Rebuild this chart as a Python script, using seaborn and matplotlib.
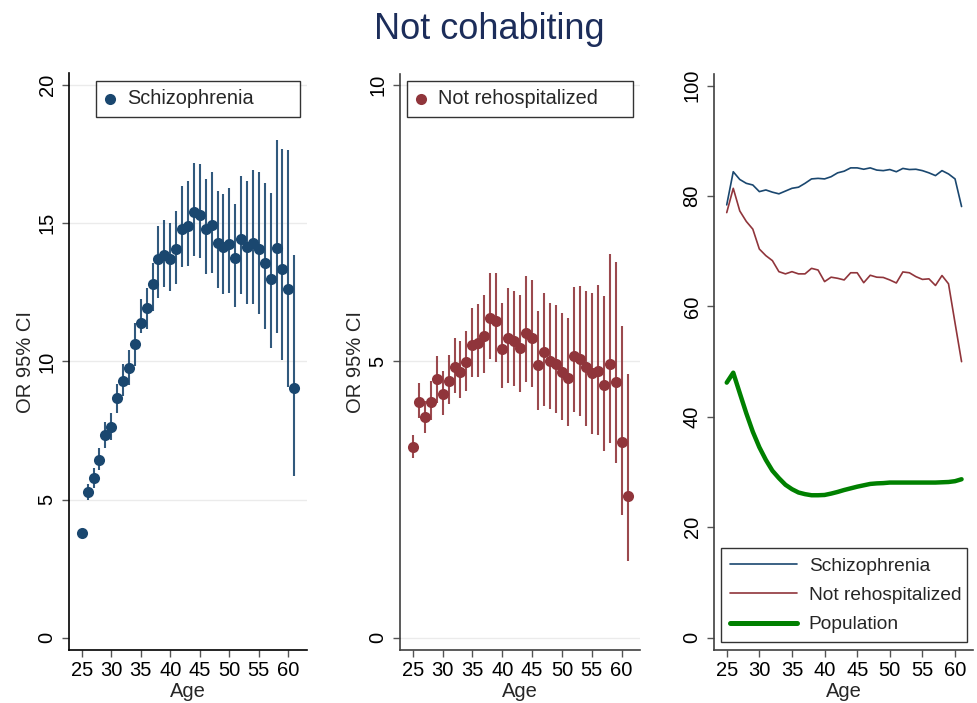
import matplotlib
matplotlib.use("Agg")
import matplotlib.pyplot as plt
from matplotlib.lines import Line2D
import seaborn as sns
import pandas as pd

# Age in years
ages = list(range(25, 62))

# Odds ratios (95% CI) for not cohabiting, schizophrenia vs population
schiz_or = [3.78, 5.28, 5.77, 6.45, 7.32, 7.63, 8.67, 9.29, 9.78, 10.62,
            11.40, 11.92, 12.79, 13.70, 13.84, 13.70, 14.06, 14.80, 14.90, 15.42,
            15.29, 14.78, 14.93, 14.28, 14.15, 14.24, 13.76, 14.42, 14.15, 14.30,
            14.06, 13.58, 13.00, 14.12, 13.36, 12.63, 9.05]
schiz_lo = [3.70, 5.00, 5.42, 6.06, 6.87, 7.17, 8.14, 8.74, 9.13, 9.83,
            11.04, 11.16, 11.82, 12.30, 12.70, 12.55, 12.79, 13.43, 13.45, 13.82,
            13.76, 13.15, 13.21, 12.67, 12.43, 12.49, 11.98, 12.43, 12.07, 12.07,
            11.70, 11.16, 10.50, 11.04, 10.07, 9.06, 5.87]
schiz_hi = [3.86, 5.57, 6.13, 6.85, 7.80, 8.14, 9.20, 9.89, 10.43, 11.40,
            12.27, 12.67, 13.58, 14.90, 15.12, 15.00, 15.45, 16.35, 16.53, 17.20,
            17.14, 16.62, 16.86, 16.17, 16.05, 16.29, 15.69, 16.71, 16.53, 16.93,
            16.84, 16.47, 16.11, 18.00, 17.68, 17.65, 13.84]

# Odds ratios (95% CI) for patients not rehospitalized
rehosp_or = [3.45, 4.27, 4.00, 4.27, 4.68, 4.41, 4.65, 4.90, 4.81, 4.99,
             5.30, 5.34, 5.46, 5.79, 5.73, 5.22, 5.43, 5.37, 5.25, 5.51,
             5.42, 4.93, 5.17, 5.01, 4.96, 4.81, 4.70, 5.10, 5.05, 4.90,
             4.79, 4.83, 4.57, 4.95, 4.63, 3.54, 2.56]
rehosp_lo = [3.26, 3.97, 3.70, 3.94, 4.25, 4.03, 4.22, 4.43, 4.33, 4.47,
             4.72, 4.72, 4.79, 5.04, 4.98, 4.51, 4.60, 4.55, 4.45, 4.63,
             4.54, 4.12, 4.20, 4.13, 4.06, 3.94, 3.83, 4.09, 4.01, 3.83,
             3.69, 3.66, 3.38, 3.53, 3.16, 2.22, 1.38]
rehosp_hi = [3.66, 4.60, 4.29, 4.65, 5.10, 4.83, 5.11, 5.43, 5.36, 5.55,
             5.96, 6.03, 6.20, 6.60, 6.60, 6.05, 6.32, 6.28, 6.20, 6.54,
             6.48, 5.91, 6.23, 6.05, 6.02, 5.88, 5.78, 6.34, 6.36, 6.28,
             6.23, 6.38, 6.18, 6.94, 6.80, 5.64, 4.77]

# Percentage not cohabiting by group
schiz_pct = [78.4, 84.4, 83.0, 82.3, 82.0, 80.8, 81.1, 80.7, 80.4, 80.9,
             81.4, 81.6, 82.3, 83.1, 83.2, 83.1, 83.5, 84.2, 84.5, 85.1,
             85.1, 84.85, 85.1, 84.7, 84.6, 84.8, 84.4, 85.0, 84.8, 84.85,
             84.6, 84.2, 83.7, 84.6, 84.0, 83.1, 78.1]
rehosp_pct = [77.0, 81.4, 77.3, 75.4, 74.0, 70.4, 69.2, 68.3, 66.3, 65.9,
              66.3, 65.9, 65.9, 66.9, 66.6, 64.5, 65.3, 65.1, 64.8, 66.1,
              66.1, 64.3, 65.65, 65.3, 65.25, 64.8, 64.25, 66.25, 66.1, 65.4,
              64.9, 65.0, 63.8, 65.6, 64.1, 57.0, 50.0]
pop_pct = [46.2, 48.0, 44.3, 40.65, 37.3, 34.5, 32.2, 30.25, 28.9, 27.7,
           26.9, 26.3, 26.0, 25.8, 25.8, 25.85, 26.1, 26.4, 26.75, 27.05,
           27.35, 27.6, 27.85, 27.95, 28.0, 28.1, 28.1, 28.1, 28.1, 28.1,
           28.1, 28.1, 28.1, 28.15, 28.2, 28.35, 28.7]

group_names = ["Schizophrenia", "Not rehospitalized", "Population"]
x_ticks = [25, 30, 35, 40, 45, 50, 55, 60]

NAVY = "#1a476f"
MAROON = "#90353b"
GREEN = "#008000"
TITLE_COLOR = "#1c2d5a"

sns.set_theme(style="white")
plt.rcParams["font.family"] = ["Liberation Sans", "DejaVu Sans"]
plt.rcParams["axes.unicode_minus"] = False

fig = plt.figure(figsize=(9.78, 7.03), dpi=100)
ax1 = fig.add_axes([0.0709, 0.0754, 0.2427, 0.8203])
ax2 = fig.add_axes([0.4090, 0.0754, 0.2454, 0.8193])
ax3 = fig.add_axes([0.7304, 0.0754, 0.2648, 0.8193])

TICK_FS = 14.5
LABEL_FS = 14.5
LEG_FS = 14.3


def style_axis(ax, yticks, ylim, xlim, spine_color):
    for side in ("top", "right"):
        ax.spines[side].set_visible(False)
    for side in ("left", "bottom"):
        ax.spines[side].set_color(spine_color)
        ax.spines[side].set_linewidth(1.2)
    ax.set_xlim(*xlim)
    ax.set_ylim(*ylim)
    ax.set_xticks(x_ticks)
    ax.set_yticks(yticks)
    ax.tick_params(axis="both", which="major", direction="out", length=5.2,
                   width=1.0, color="#555555", labelsize=TICK_FS,
                   labelcolor="black")
    ax.tick_params(axis="x", pad=3, bottom=True)
    ax.tick_params(axis="y", pad=4, labelrotation=90, left=True)
    for lab in ax.get_yticklabels():
        lab.set_va("center")
    ax.set_xlabel("Age", fontsize=LABEL_FS, labelpad=1)


def or_panel(ax, y, lo, hi, color, name):
    df = pd.DataFrame({"Age": ages, "OR": y, "lo": lo, "hi": hi})
    ax.vlines(df["Age"], df["lo"], df["hi"], color=color, linewidth=1.5,
              alpha=0.9, zorder=2)
    sns.scatterplot(data=df, x="Age", y="OR", ax=ax, color=color, s=64,
                    linewidth=0, label=name, zorder=3)
    ax.set_ylabel("OR 95% CI", fontsize=LABEL_FS, labelpad=2)


def marker_legend(ax, anchor):
    leg = ax.legend(loc="upper left", bbox_to_anchor=anchor, mode="expand",
                    fontsize=LEG_FS, frameon=True, fancybox=False,
                    edgecolor="black", handlelength=0.6, handletextpad=0.55,
                    borderpad=0.42, borderaxespad=0)
    leg.get_frame().set_linewidth(1.0)
    return leg


# Left panel: schizophrenia
or_panel(ax1, schiz_or, schiz_lo, schiz_hi, NAVY, group_names[0])
for v in [5, 10, 15, 20]:
    ax1.axhline(v, color="#ebebeb", linewidth=1.0, zorder=0)
style_axis(ax1, [0, 5, 10, 15, 20], (-0.445, 20.43), (22.9, 63.1), "black")
marker_legend(ax1, (0.1125, 0.926, 0.86, 0.061))

# Middle panel: not rehospitalized
or_panel(ax2, rehosp_or, rehosp_lo, rehosp_hi, MAROON, group_names[1])
for v in [0, 5, 10]:
    ax2.axhline(v, color="#ebebeb", linewidth=1.0, zorder=0)
style_axis(ax2, [0, 5, 10], (-0.223, 10.2), (22.87, 63.07), "#404040")
marker_legend(ax2, (0.029, 0.927, 0.94, 0.061))

# Right panel: percentage not cohabiting
pct = pd.DataFrame({
    "Age": ages * 3,
    "pct": schiz_pct + rehosp_pct + pop_pct,
    "group": [group_names[0]] * len(ages) + [group_names[1]] * len(ages)
             + [group_names[2]] * len(ages),
})
sns.lineplot(data=pct, x="Age", y="pct", hue="group", size="group",
             hue_order=group_names, size_order=group_names,
             palette=[NAVY, MAROON, GREEN], sizes=[1.2, 1.2, 3.2],
             ax=ax3, legend=False)
ax3.set_ylabel("")
style_axis(ax3, [0, 20, 40, 60, 80, 100], (-2.23, 102.1), (23.1, 62.8), "#404040")
handles = [Line2D([], [], color=NAVY, lw=1.2),
           Line2D([], [], color=MAROON, lw=1.2),
           Line2D([], [], color=GREEN, lw=3.6)]
leg3 = ax3.legend(handles, group_names, loc="lower left",
                  bbox_to_anchor=(0.026, 0.0134, 0.95, 0.165), mode="expand",
                  fontsize=13.8, frameon=True, fancybox=False,
                  edgecolor="black", handlelength=3.5, handletextpad=0.6,
                  borderpad=0.47, labelspacing=0.62, borderaxespad=0)
leg3.get_frame().set_linewidth(1.0)

fig.suptitle("Not cohabiting", x=0.5, y=0.958, fontsize=26, color=TITLE_COLOR,
             va="center")

fig.savefig("out.png", dpi=100)
